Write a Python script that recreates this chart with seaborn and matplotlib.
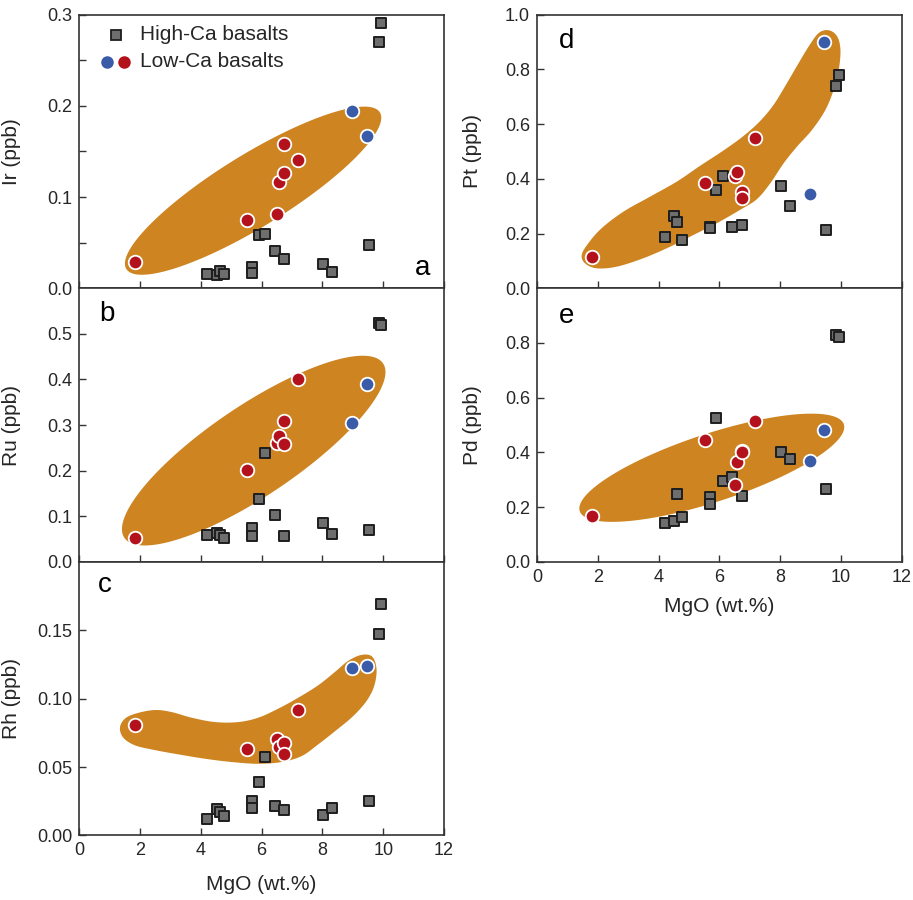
import numpy as np
import pandas as pd
import matplotlib
matplotlib.use("Agg")
import matplotlib.pyplot as plt
from matplotlib.ticker import MultipleLocator, FormatStrFormatter
import seaborn as sns

# ---------------- data ----------------
# High-Ca basalts
hc_mgo = [4.22, 4.52, 4.62, 4.76, 5.70, 5.70, 5.90, 6.12, 6.43, 6.73, 8.02, 8.32, 9.52, 9.85, 9.92]
hc_ir = [0.0157, 0.0146, 0.0194, 0.0157, 0.0238, 0.0164, 0.0585, 0.0596, 0.041, 0.0325, 0.0263, 0.0179, 0.0475, 0.2705, 0.2906]
hc_ru = [0.0584, 0.0642, 0.060, 0.0533, 0.0752, 0.0569, 0.137, 0.239, 0.102, 0.0569, 0.0854, 0.062, 0.0708, 0.524, 0.520]
hc_rh = [0.0124, 0.019, 0.0173, 0.0141, 0.0251, 0.0202, 0.039, 0.0576, 0.0215, 0.0185, 0.0151, 0.0198, 0.0251, 0.147, 0.169]
hc_pt = [0.189, 0.263, 0.241, 0.177, 0.225, 0.2195, 0.359, 0.41, 0.223, 0.230, 0.374, 0.301, 0.213, 0.741, 0.778]
hc_pd = [0.141, 0.149, 0.248, 0.165, 0.237, 0.21, 0.527, 0.295, 0.311, 0.239, 0.402, 0.376, 0.268, 0.829, 0.823]

# Low-Ca basalts (red)
lr_mgo = [1.82, 5.52, 6.52, 6.58, 6.73, 6.73, 7.18]
lr_ir = [0.0285, 0.0749, 0.0811, 0.117, 0.126, 0.158, 0.1407]
lr_ru = [0.0533, 0.202, 0.261, 0.277, 0.259, 0.309, 0.401]
lr_rh = [0.0807, 0.0629, 0.0702, 0.0649, 0.0676, 0.0593, 0.0915]
lr_pt = [0.116, 0.384, 0.409, 0.424, 0.352, 0.329, 0.549]
lr_pd = [0.168, 0.444, 0.280, 0.365, 0.405, 0.400, 0.515]

# Low-Ca basalts (blue)
lb_mgo = [8.97, 9.45]
lb_ir = [0.1948, 0.1667]
lb_ru = [0.304, 0.390]
lb_rh = [0.1227, 0.1239]
lb_pt = [0.344, 0.899]
lb_pd = [0.367, 0.482]

# outlines of the low-Ca fields for panels c and d (MgO, value)
field_c_x = [1.341, 1.506, 1.889, 2.492, 3.040, 3.697, 4.464, 5.231, 5.889, 6.546, 7.204, 7.861, 8.409,
             8.847, 9.286, 9.636, 9.779, 9.702, 9.450, 9.012, 8.464, 7.861, 7.313, 6.656, 5.889, 5.012,
             4.136, 3.259, 2.492, 1.834, 1.451]
field_c_y = [0.0788, 0.0854, 0.0893, 0.0917, 0.0902, 0.0861, 0.0829, 0.0829, 0.0861, 0.0927, 0.1007, 0.1098,
             0.1195, 0.1276, 0.1320, 0.1307, 0.1215, 0.1093, 0.0983, 0.0873, 0.0771, 0.0666, 0.0580, 0.0537,
             0.0524, 0.0537, 0.0561, 0.0593, 0.0624, 0.0659, 0.0715]
field_d_x = [1.473, 1.693, 2.132, 2.845, 3.723, 4.602, 5.370, 6.139, 6.797, 7.346, 7.785, 8.169, 8.553,
             8.937, 9.267, 9.596, 9.870, 9.980, 9.925, 9.760, 9.486, 9.047, 8.553, 8.114, 7.675, 7.236,
             6.687, 5.918, 5.150, 4.382, 3.504, 2.626, 1.967, 1.583]
field_d_y = [0.122, 0.165, 0.220, 0.280, 0.335, 0.390, 0.448, 0.504, 0.557, 0.612, 0.671, 0.740, 0.813,
             0.884, 0.933, 0.943, 0.921, 0.872, 0.799, 0.726, 0.652, 0.579, 0.518, 0.457, 0.384, 0.326,
             0.287, 0.238, 0.195, 0.152, 0.110, 0.079, 0.073, 0.091]
# elliptical fields: centre (MgO, value), semi-axes (px), angle (deg)
field_a_ell = dict(cx=5.72, cy=0.107, a=149, b=36, ang=31.7)
field_b_ell = dict(cx=5.74, cy=0.244, a=156, b=45, ang=34.0)
field_e_ell = dict(cx=5.75, cy=0.344, a=139, b=34, ang=18.2)

# ---------------- style ----------------
sns.set_theme(style="ticks")
plt.rcParams['font.family'] = ['Liberation Sans', 'DejaVu Sans']
ORANGE = '#CE8420'
RED = '#B3121C'
BLUE = '#3A5BA8'
SQ_FILL = '#6E6E6E'
SQ_EDGE = '#1E1E1E'
SPINE = '#333333'

fig = plt.figure(figsize=(9.13, 9.0), dpi=100)
W, H = 0.3997, 0.3040
L1, L2 = 0.0867, 0.5881
B = [0.6797, 0.3757, 0.0717]


def ellipse_field(ax, p):
    t = np.linspace(0, 2 * np.pi, 300)
    c = ax.transData.transform((p['cx'], p['cy']))
    th = np.deg2rad(p['ang'])
    px = c[0] + p['a'] * np.cos(t) * np.cos(th) - p['b'] * np.sin(t) * np.sin(th)
    py = c[1] + p['a'] * np.cos(t) * np.sin(th) + p['b'] * np.sin(t) * np.cos(th)
    d = ax.transData.inverted().transform(np.column_stack([px, py]))
    ax.fill(d[:, 0], d[:, 1], color=ORANGE, lw=0, zorder=1)


def spline_field(ax, xs, ys, n=24):
    P = ax.transData.transform(np.column_stack([xs, ys]))
    N = len(P)
    out = []
    for i in range(N):
        p0, p1, p2, p3 = P[i - 1], P[i], P[(i + 1) % N], P[(i + 2) % N]
        for t in np.linspace(0, 1, n, endpoint=False):
            out.append(0.5 * ((2 * p1) + (-p0 + p2) * t + (2 * p0 - 5 * p1 + 4 * p2 - p3) * t * t
                              + (-p0 + 3 * p1 - 3 * p2 + p3) * t ** 3))
    d = ax.transData.inverted().transform(np.array(out))
    ax.fill(d[:, 0], d[:, 1], color=ORANGE, lw=0, zorder=1)


def panel(rect, ylim, yhc, ylr, ylb, ylabel, major, minor, fmt, letter, letter_pos, xlabels,
          field=None, field_kind=None, xlabel_y=None):
    ax = fig.add_axes(rect)
    ax.set_xlim(0, 12)
    ax.set_ylim(*ylim)
    if field_kind == 'ell':
        ellipse_field(ax, field)
    elif field_kind == 'spl':
        spline_field(ax, field[0], field[1])
    df_hc = pd.DataFrame({'MgO': hc_mgo, 'v': yhc})
    df_lr = pd.DataFrame({'MgO': lr_mgo, 'v': ylr})
    df_lb = pd.DataFrame({'MgO': lb_mgo, 'v': ylb})
    sns.scatterplot(data=df_hc, x='MgO', y='v', marker='s', s=62, color=SQ_FILL,
                    edgecolor=SQ_EDGE, linewidth=1.4, ax=ax, zorder=3)
    sns.scatterplot(data=df_lr, x='MgO', y='v', marker='o', s=95, color=RED,
                    edgecolor='white', linewidth=1.3, ax=ax, zorder=4)
    sns.scatterplot(data=df_lb, x='MgO', y='v', marker='o', s=95, color=BLUE,
                    edgecolor='white', linewidth=1.3, ax=ax, zorder=4)
    ax.xaxis.set_major_locator(MultipleLocator(2))
    ax.yaxis.set_major_locator(MultipleLocator(major))
    if minor:
        ax.yaxis.set_minor_locator(MultipleLocator(minor))
    ax.yaxis.set_major_formatter(FormatStrFormatter(fmt))
    ax.tick_params(which='both', direction='in', length=5, width=1.0, color=SPINE,
                   labelsize=13, pad=5, top=False, right=False)
    for s in ax.spines.values():
        s.set_color(SPINE)
        s.set_linewidth(1.2)
    ax.set_ylabel(ylabel, fontsize=15)
    ax.yaxis.set_label_coords(-0.16 if rect[0] < 0.3 else -0.15, 0.5)
    if xlabels:
        ax.set_xlabel('MgO (wt.%)', fontsize=15)
        ax.xaxis.set_label_coords(0.5, xlabel_y)
        ax.xaxis.label.set_va('top')
    else:
        ax.set_xlabel('')
        ax.tick_params(axis='x', labelbottom=False)
    ha = 'right' if letter_pos[0] > 0.5 else 'left'
    ax.text(letter_pos[0], letter_pos[1], letter, transform=ax.transAxes, fontsize=20,
            ha=ha, va='center', color='black')
    return ax


ax_a = panel([L1, B[0], W, H], (0, 0.3), hc_ir, lr_ir, lb_ir, 'Ir (ppb)', 0.1, 0.05, '%.1f',
             'a', (0.962, 0.075), False, field_a_ell, 'ell')
ax_b = panel([L1, B[1], W, H], (0, 0.6), hc_ru, lr_ru, lb_ru, 'Ru (ppb)', 0.1, None, '%.1f',
             'b', (0.055, 0.905), False, field_b_ell, 'ell')
ax_c = panel([L1, B[2], W, H], (0, 0.2), hc_rh, lr_rh, lb_rh, 'Rh (ppb)', 0.05, None, '%.2f',
             'c', (0.05, 0.915), True, (field_c_x, field_c_y), 'spl', xlabel_y=-0.145)
ax_d = panel([L2, B[0], W, H], (0, 1.0), hc_pt, lr_pt, lb_pt, 'Pt (ppb)', 0.2, None, '%.1f',
             'd', (0.06, 0.905), False, (field_d_x, field_d_y), 'spl')
ax_e = panel([L2, B[1], W, H], (0, 1.0), hc_pd, lr_pd, lb_pd, 'Pd (ppb)', 0.2, None, '%.1f',
             'e', (0.06, 0.9), True, field_e_ell, 'ell', xlabel_y=-0.13)
ax_e.set_yticks([0.0, 0.2, 0.4, 0.6, 0.8])
ax_b.set_yticks([0.0, 0.1, 0.2, 0.3, 0.4, 0.5])
ax_c.set_yticks([0.0, 0.05, 0.10, 0.15])

# legend (panel a)
ax_a.plot([0.100], [0.926], marker='s', ms=7.5, color=SQ_FILL, mec=SQ_EDGE, mew=1.3,
          transform=ax_a.transAxes, clip_on=False, zorder=6, ls='none')
ax_a.plot([0.077], [0.828], marker='o', ms=8, color=BLUE, mec=BLUE,
          transform=ax_a.transAxes, clip_on=False, zorder=6, ls='none')
ax_a.plot([0.123], [0.828], marker='o', ms=8, color=RED, mec=RED,
          transform=ax_a.transAxes, clip_on=False, zorder=6, ls='none')
ax_a.text(0.167, 0.926, 'High-Ca basalts', transform=ax_a.transAxes, fontsize=15, va='center', ha='left')
ax_a.text(0.167, 0.828, 'Low-Ca basalts', transform=ax_a.transAxes, fontsize=15, va='center', ha='left')

fig.savefig('out.png', dpi=100)
